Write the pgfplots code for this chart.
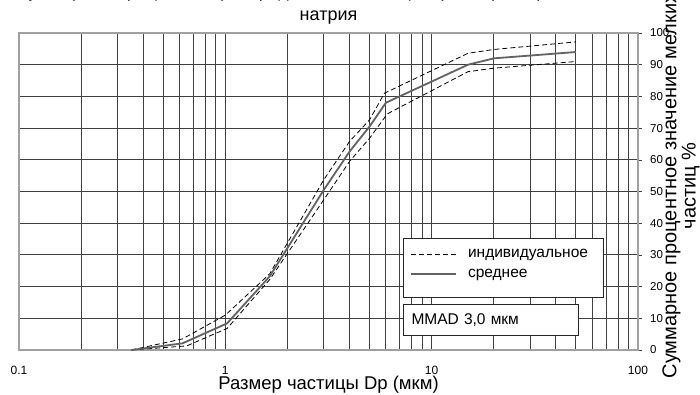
\documentclass[border=0pt]{standalone}
\usepackage{fontspec}
\setmainfont{Liberation Sans}
\usepackage{pgfplots}
\usepackage{pgfplotstable}
\pgfplotsset{compat=1.18}
\definecolor{meangray}{HTML}{636363}
\definecolor{framegray}{HTML}{A0A0A0}
\definecolor{gridc}{HTML}{404040}

\pgfplotstableread{
x y
0.35 0
0.62 2.1
1.02 8.4
1.64 23.2
3.0 50.5
4.0 62.6
5.0 70.5
6.0 78
15 90
20 92
50 94
}\meandata

\pgfplotstableread{
x y
0.35 0
0.62 3.5
1.0 11
1.64 24
3.0 53.7
4.0 65.8
5.0 72.6
5.9 81
15 93.6
20 94.8
50 97.2
}\upperdata

\pgfplotstableread{
x y
0.35 0
0.65 1.3
1.02 6.8
1.64 22.2
3.0 47.4
4.0 59.5
5.0 66.8
6.1 74.5
15 87.8
20 88.9
50 91
}\lowerdata

\begin{document}
\begin{tikzpicture}
\begin{axis}[
  at={(19pt,44pt)}, anchor=south west,
  width=619pt, height=317pt, scale only axis,
  xmode=log, xmin=0.1, xmax=100, ymin=0, ymax=100,
  xtick={0.1,1,10,100}, xticklabels={0.1,1,10,100},
  ytick={0,10,...,100},
  grid=both,
  major grid style={draw=gridc, line width=0.9pt},
  minor grid style={draw=gridc, line width=0.9pt},
  axis line style={draw=framegray, line width=1.6pt},
  ytick pos=right, yticklabel pos=right,
  tick align=outside,
  major tick length=4pt, minor tick length=0pt,
  xtick style={draw=none},
  ytick style={draw=gridc, line width=0.6pt},
  /pgf/number format/assume math mode=true,
  xticklabel style={anchor=center, yshift=-16pt, font=\fontsize{12}{13}\selectfont},
  yticklabel style={inner sep=0pt, text width=20pt, align=left, font=\fontsize{11.5}{12}\selectfont},
  yticklabel shift=8pt,
  xlabel={Размер частицы Dp (мкм)},
  xlabel style={at={(axis description cs:0.5,0)}, anchor=center, inner sep=0pt, yshift=-35pt, font=\fontsize{18.5}{19}\selectfont},
  title={Суммарное процентное распределение частиц по размерам кромогликата\\натрия},
  title style={at={(axis description cs:0.5,1)}, anchor=south, inner sep=0pt, yshift=3pt, align=center, font=\fontsize{18}{22.5}\selectfont},
  legend cell align=left,
  legend style={at={(axis description cs:0.6204,0.3533)}, anchor=north west, draw=none, fill=none, font=\fontsize{15.5}{16}\selectfont, inner xsep=7pt, inner ysep=9pt, row sep=6pt, column sep=11pt, nodes={inner xsep=0pt, inner ysep=2pt}},
  legend image code/.code={\draw[#1] (0pt,0pt) -- (45pt,0pt);},
]
\addplot[black, line width=0.8pt, dash pattern=on 5pt off 3pt] table[x=x,y=y] {\upperdata};
\addlegendentry{индивидуальное}
\addplot[black, line width=0.8pt, dash pattern=on 5pt off 3pt, forget plot] table[x=x,y=y] {\lowerdata};
\addplot[meangray, line width=1.8pt] table[x=x,y=y] {\meandata};
\addlegendentry{среднее}
\node[draw=black!85, line width=1pt, fill=white, anchor=north west, minimum width=200pt, minimum height=59pt, inner sep=0pt] at (axis description cs:0.6204,0.3533) {};
\node[draw=black!85, line width=1pt, fill=white, anchor=north west, minimum width=175pt, minimum height=31pt, inner xsep=8pt, text width=159pt, align=left, font=\fontsize{15.5}{16}\selectfont] at (axis description cs:0.6204,0.1451) {MMAD 3,0 мкм};
\end{axis}
\node[rotate=90, align=center, font=\fontsize{20}{18}\selectfont] at (681pt,208pt) {Суммарное процентное значение мелких\\частиц \%};
\pgfresetboundingbox
\useasboundingbox (0,0) rectangle (700pt,394pt);
\end{tikzpicture}
\end{document}
